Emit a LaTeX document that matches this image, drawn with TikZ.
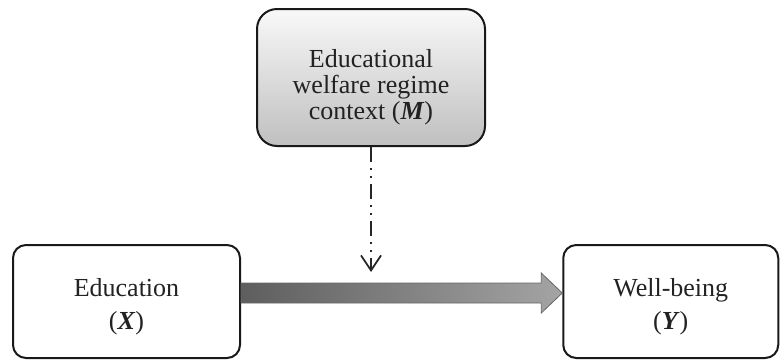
\documentclass[tikz,border=0pt]{standalone}
\usepackage{fontspec}
\setmainfont{Liberation Serif}
\usetikzlibrary{arrows.meta,calc}
\definecolor{txtgray}{HTML}{222222}
\definecolor{arrowdark}{HTML}{5E5E5E}
\definecolor{arrowlight}{HTML}{A4A4A4}
\tikzset{
  varbox/.style={draw=black!90,line width=1pt,rounded corners=6.5pt,
    align=center,text=txtgray,font=\fontsize{13}{13}\selectfont,inner sep=0pt},
  modbox/.style={varbox,rounded corners=10pt,top color=gray!5,bottom color=gray!50},
  modarrow/.style={line width=0.9pt,black!85,
    dash pattern=on 7.5pt off 3pt on 1pt off 3pt on 1pt off 3pt,
    -{Straight Barb[length=7.5pt,width=10pt,line width=0.9pt]}},
}
\begin{document}
\begin{tikzpicture}[x=0.5pt,y=-0.5pt]
  \useasboundingbox (0,0) rectangle (780,360);
  % variables
  \node[modbox,minimum width=114pt,minimum height=68.5pt] (mod) at (371,77.5)
    {\rule{0pt}{19pt}Educational\\welfare regime\\context (\textbf{\textit{M}})};
  \node[varbox,minimum width=113.5pt,minimum height=56.5pt] (edu) at (126.5,301.5)
    {\rule{0pt}{14pt}Education\\[3.5pt](\textbf{\textit{X}})};
  \node[varbox,minimum width=107.5pt,minimum height=56.5pt] (wb) at (670.75,301.5)
    {\rule{0pt}{14pt}Well-being\\[3.5pt](\textbf{\textit{Y}})};
  % direct effect
  \coordinate (tip) at ($(wb.west)+(0,-8.5)$);
  \shade[left color=arrowdark,right color=arrowlight,draw=black!60,line width=0.4pt]
    ($(edu.east |- tip)+(0,-10)$) -- ($(tip)+(-21,-10)$) -- ($(tip)+(-21,-20)$)
    -- (tip) -- ($(tip)+(-21,20)$) -- ($(tip)+(-21,10)$)
    -- ($(edu.east |- tip)+(0,10)$) -- cycle;
  % moderation
  \coordinate (modend) at ($(mod.south)+(0,125)$);
  \draw[modarrow] (mod.south) -- (modend);
\end{tikzpicture}
\end{document}
